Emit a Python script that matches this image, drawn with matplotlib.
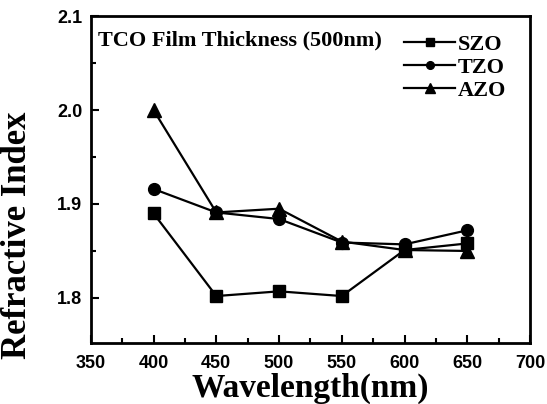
import numpy as np
import matplotlib
matplotlib.use("Agg")
from matplotlib import pyplot as plt
from matplotlib.ticker import MultipleLocator

wavelength = [400, 450, 500, 550, 600, 650]
szo = [1.890, 1.802, 1.807, 1.802, 1.851, 1.858]
tzo = [1.916, 1.891, 1.884, 1.859, 1.857, 1.872]
azo = [2.000, 1.891, 1.895, 1.860, 1.851, 1.850]

serif = "Liberation Serif"
sans = "Liberation Sans"

fig = plt.figure(figsize=(5.47, 4.04), dpi=100)
ax = fig.add_axes([0.166, 0.151, 0.803, 0.809])

ax.plot(wavelength, szo, "k-s", lw=1.6, ms=8.5, label="SZO")
ax.plot(wavelength, tzo, "k-o", lw=1.6, ms=8.5, label="TZO")
ax.plot(wavelength, azo, "k-^", lw=1.6, ms=10, label="AZO")

ax.set_xlim(350, 700)
ax.set_ylim(1.752, 2.1)
ax.xaxis.set_major_locator(MultipleLocator(50))
ax.xaxis.set_minor_locator(MultipleLocator(25))
ax.yaxis.set_major_locator(MultipleLocator(0.1))
ax.yaxis.set_minor_locator(MultipleLocator(0.05))
ax.tick_params(which="both", direction="in", width=1.5, top=False, right=False)
ax.tick_params(which="major", length=6)
ax.tick_params(axis="x", which="major", pad=9)
ax.tick_params(axis="y", which="major", pad=6)
ax.tick_params(which="minor", length=3.5)
for s in ax.spines.values():
    s.set_linewidth(2)

for lab in ax.get_xticklabels() + ax.get_yticklabels():
    lab.set_fontfamily(sans)
    lab.set_fontweight("bold")
    lab.set_fontsize(13)

ax.set_xlabel("Wavelength(nm)", fontfamily=serif, fontweight="bold", fontsize=24, labelpad=0)
ax.set_ylabel("Refractive Index", fontfamily=serif, fontweight="bold", fontsize=25)
ax.yaxis.set_label_coords(-0.13, 0.33)

ax.text(0.016, 0.955, "TCO Film Thickness (500nm)", transform=ax.transAxes,
        fontfamily=serif, fontweight="bold", fontsize=16, va="top", ha="left")

leg = ax.legend(loc="upper right", bbox_to_anchor=(0.975, 0.985), frameon=False,
                prop={"family": serif, "weight": "bold", "size": 16},
                handlelength=2.3, handletextpad=0.1, labelspacing=0.1,
                borderaxespad=0.2, markerscale=0.65)

fig.savefig("out.png", dpi=100)
